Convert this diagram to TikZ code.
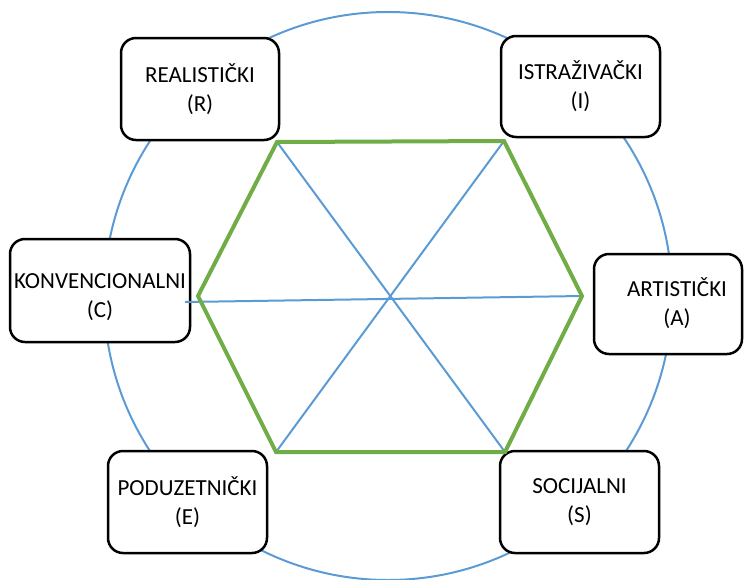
\documentclass[tikz,border=0pt]{standalone}
\usepackage{fontspec}
\setmainfont{Carlito}
\definecolor{plava}{HTML}{5B9BD5}
\definecolor{zelena}{HTML}{70AD47}
\begin{document}
\begin{tikzpicture}[x=1pt,y=-1pt,
  tip/.style={align=center,font=\fontsize{23}{29}\selectfont},
  box/.style={tip,draw=black,line width=2.5pt,rounded corners=15pt,fill=white,inner sep=0pt},
  spoke/.style={draw=plava,line width=2pt},
  hexline/.style={draw=zelena,line width=4pt,line join=miter}]
\useasboundingbox (0,0) rectangle (744,579);
\draw[spoke] (388,296) circle[radius=284pt];
\node[box,minimum width=158pt,minimum height=102pt] (R) at (200,89) {REALISTIČKI\\(R)};
\node[box,minimum width=159pt,minimum height=101pt] (I) at (580.5,86.5) {ISTRAŽIVAČKI\\(I)};
\node[box,minimum width=180pt,minimum height=103pt,
  label={[tip,yshift=-7pt]center:{KONVENCIONALNI\\(C)}}] (C) at (100,290.5) {};
\node[box,minimum width=148pt,minimum height=100pt,
  label={[tip,xshift=9pt,yshift=1pt]center:{ARTISTIČKI\\(A)}}] (A) at (668,304) {};
\node[box,minimum width=159pt,minimum height=102pt] (E) at (187.5,502) {PODUZETNIČKI\\(E)};
\node[box,minimum width=159pt,minimum height=102pt] (S) at (579.5,502) {SOCIJALNI\\(S)};
\coordinate (h1) at (277,142);
\coordinate (h2) at (504,141);
\coordinate (h3) at (582,296);
\coordinate (h4) at (505,452);
\coordinate (h5) at (276,452);
\coordinate (h6) at (198,296);
\coordinate (cl) at (185,302);
\draw[spoke] (h1) -- (h4);
\draw[spoke] (h2) -- (h5);
\draw[spoke] (cl) -- (h3);
\draw[hexline] (h1) -- (h2) -- (h3) -- (h4) -- (h5) -- (h6) -- cycle;
\end{tikzpicture}
\end{document}
